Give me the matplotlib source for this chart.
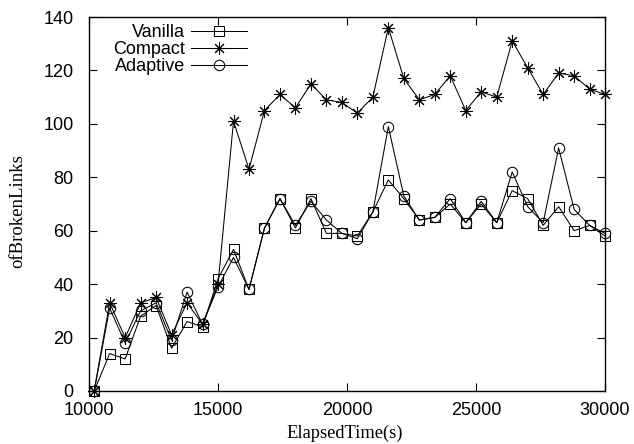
import matplotlib
matplotlib.use('Agg')
import matplotlib.pyplot as plt
import numpy as np

# Data
elapsed = [10200 + 600 * k for k in range(34)]
vanilla = [0, 14, 12, 28, 32, 16, 26, 24, 42, 53, 38, 61, 72, 61, 72, 59, 59,
           58, 67, 79, 72, 64, 65, 70, 63, 70, 63, 75, 72, 62, 69, 60, 62, 58]
compact = [0, 33, 20, 33, 35, 21, 33, 25, 40, 101, 83, 105, 111, 106, 115, 109, 108,
           104, 110, 136, 117, 109, 111, 118, 105, 112, 110, 131, 121, 111, 119, 118, 113, 111]
adaptive = [0, 31, 18, 30, 33, 19, 37, 25, 39, 50, 38, 61, 72, 62, 71, 64, 59,
            57, 67, 99, 73, 64, 65, 72, 63, 71, 63, 82, 69, 63, 91, 68, 62, 59]

xticks = [10000, 15000, 20000, 25000, 30000]
yticks = [0, 20, 40, 60, 80, 100, 120, 140]

sans = ['Liberation Sans', 'DejaVu Sans']
serif = ['Liberation Serif', 'DejaVu Serif']

fig = plt.figure(figsize=(6.34, 4.44), dpi=100)
ax = fig.add_axes([0.1404, 0.1194, 0.8140, 0.8423])

style = dict(color='black', linewidth=0.75, markerfacecolor='none',
             markeredgecolor='black', markeredgewidth=0.75, clip_on=False)
ax.plot(elapsed, vanilla, marker='s', markersize=7, label='Vanilla', **style)
ax.plot(elapsed, compact, marker=(8, 2, 0), markersize=9, label='Compact', **style)
ax.plot(elapsed, adaptive, marker='o', markersize=7.5, label='Adaptive', **style)

ax.set_xlim(10000, 30000)
ax.set_ylim(0, 140)
ax.set_xticks(xticks)
ax.set_yticks(yticks)
ax.set_xticklabels([str(v) for v in xticks], family=sans, fontsize=13)
ax.set_yticklabels([str(v) for v in yticks], family=sans, fontsize=13)
ax.tick_params(direction='in', length=6, width=0.8, top=True, right=True)
ax.tick_params(axis='x', pad=8)
ax.tick_params(axis='y', pad=11)
for s in ax.spines.values():
    s.set_linewidth(1.0)

ax.set_xlabel('ElapsedTime(s)', family=serif, fontsize=13.3)
ax.set_ylabel('ofBrokenLinks', family=serif, fontsize=13.5)
ax.xaxis.set_label_coords(0.495, -0.090)
ax.yaxis.set_label_coords(-0.122, 0.48)

leg = ax.legend(loc='upper right', bbox_to_anchor=(0.316, 0.995), frameon=False,
                markerfirst=False, handlelength=3.1, handletextpad=0.3,
                labelspacing=0.0, borderpad=0.3, borderaxespad=0.0,
                prop={'family': sans, 'size': 13})

fig.savefig('out.png', dpi=100)
